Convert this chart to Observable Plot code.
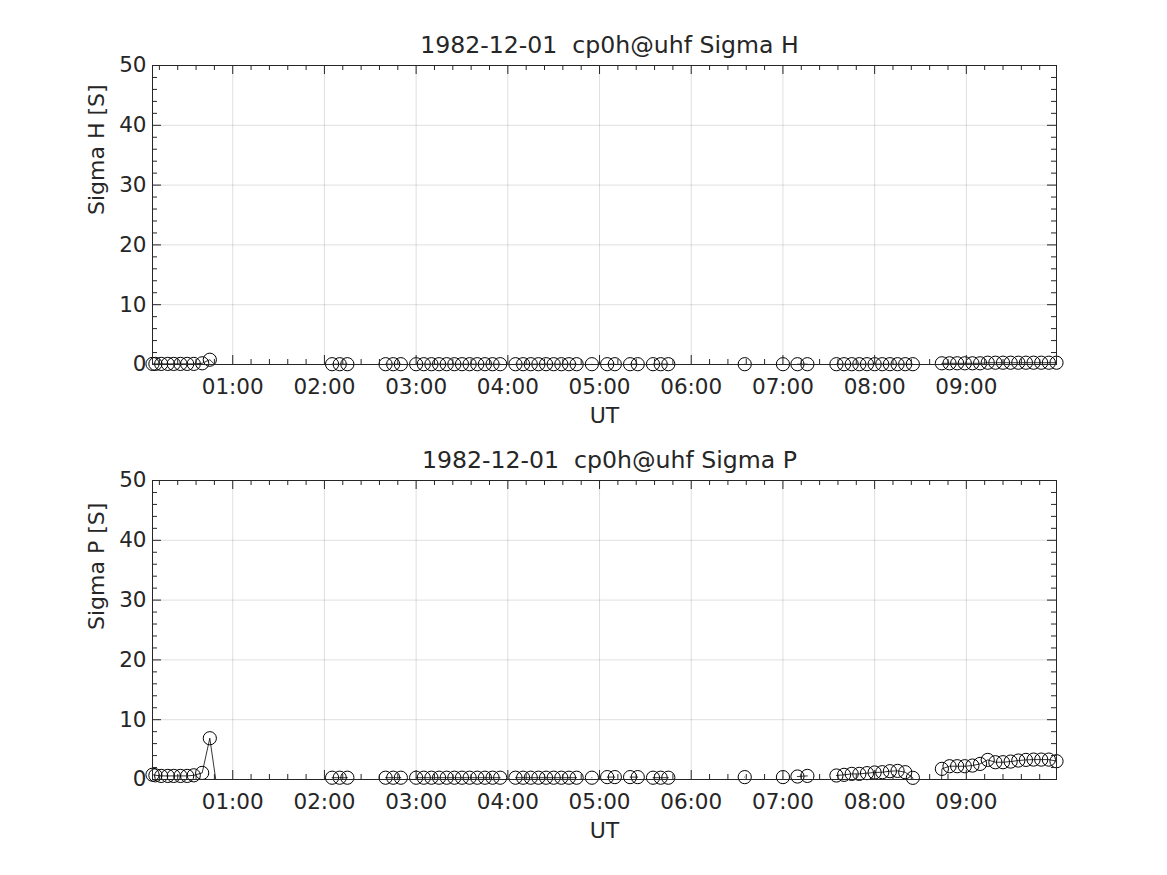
<!DOCTYPE html>
<html><head><meta charset="utf-8">
<script src="https://cdn.jsdelivr.net/npm/d3@7"></script>
<script src="https://cdn.jsdelivr.net/npm/@observablehq/plot@0.6"></script>
<style>
body{margin:0;background:#fff}
#c{width:1167px;height:875px;position:relative;overflow:hidden}
svg{display:block}
</style>
</head><body><div id="c"></div>
<script>
// ---- data (time in minutes after 00:00 UT; null = data gap; negative = invalid, clipped) ----
const dateLabel = "1982-12-01";
const experiment = "cp0h@uhf";
const timeMin = [
  7.5, 9.4, 13.2, 17.5, 21.4, 25.8, 30.2, 34.5, 40, 45, 49, 55,
  125, 130, 135, 140,
  160, 165, 170, 175,
  180, 185, 190, 195, 200, 205, 210, 215, 220, 225, 230, 235, 240,
  245, 250, 255, 260, 265, 270, 275, 280, 285, 290,
  295, 300,
  305, 310, 315,
  320, 325, 330,
  335, 340, 345, 350,
  395, 400,
  420, 425, 429.5, 436, 445,
  455, 460, 465, 470, 475, 480, 485, 490, 495, 500, 505,
  519,
  524, 529, 534, 539, 544, 549, 554, 559, 564, 569, 574, 579, 584, 589, 594, 599
];
const sigmaH = [
  0.1, 0.1, 0.1, 0.1, 0.1, 0.1, 0.1, 0.1, 0.2, 0.8, -0.2, null,
  0.05, 0.05, 0.05, null,
  0.05, 0.05, 0.05, null,
  0.05, 0.05, 0.05, 0.05, 0.05, 0.05, 0.05, 0.05, 0.05, 0.05, 0.05, 0.05, null,
  0.05, 0.05, 0.05, 0.05, 0.05, 0.05, 0.05, 0.05, 0.05, null,
  0.05, null,
  0.05, 0.05, null,
  0.05, 0.05, null,
  0.05, 0.05, 0.05, null,
  0.05, null,
  0.05, null, 0.05, 0.05, null,
  0.05, 0.05, 0.05, 0.05, 0.05, 0.05, 0.05, 0.05, 0.05, 0.05, 0.05,
  -50,
  0.2, 0.2, 0.2, 0.2, 0.2, 0.2, 0.3, 0.3, 0.3, 0.3, 0.3, 0.3, 0.3, 0.3, 0.3, 0.3
];
const sigmaP = [
  0.8, 0.7, 0.6, 0.6, 0.6, 0.6, 0.6, 0.7, 1.1, 6.9, -0.2, null,
  0.3, 0.3, 0.3, null,
  0.3, 0.3, 0.3, null,
  0.3, 0.3, 0.3, 0.3, 0.3, 0.3, 0.3, 0.3, 0.3, 0.3, 0.3, 0.3, null,
  0.3, 0.3, 0.3, 0.3, 0.3, 0.3, 0.3, 0.3, 0.3, null,
  0.3, null,
  0.4, 0.4, null,
  0.4, 0.4, null,
  0.3, 0.3, 0.3, null,
  0.4, null,
  0.4, null, 0.5, 0.6, null,
  0.67, 0.78, 0.94, 0.94, 1.06, 1.17, 1.22, 1.39, 1.44, 1.22, 0.28,
  -50,
  1.78, 2.22, 2.22, 2.22, 2.33, 2.61, 3.28, 2.89, 2.89, 3.0, 3.17, 3.28, 3.33, 3.33, 3.33, 3.06
];
const xTickMinutes = [60, 120, 180, 240, 300, 360, 420, 480, 540];
const xTickLabels = ["01:00", "02:00", "03:00", "04:00", "05:00", "06:00", "07:00", "08:00", "09:00"];
const yTicks = [0, 10, 20, 30, 40, 50];

// ---- drawing ----
const ink = "#262626";
const W = 1167, ML = 152, MR = 111;
const PH = 299, PW = W - ML - MR;
const font = "DejaVu Sans";
const tickFS = 21.5, labelFS = 22, titleFS = 23.6;

function panel({values, title, ylabel, marginTop, marginBottom}) {
  const rows = timeMin.map((t, i) => ({t, v: values[i]}));
  const shown = rows.filter(d => d.v != null && d.v >= 0);
  const xDomain = d3.extent(timeMin);
  const minorX = d3.range(Math.ceil(xDomain[0] / 12) * 12, xDomain[1], 12).filter(m => m % 60 !== 0);
  const minorY = d3.range(0, 51, 2).filter(v => v % 10 !== 0);
  return Plot.plot({
    width: W, height: marginTop + PH + marginBottom,
    marginLeft: ML, marginRight: MR, marginTop, marginBottom,
    x: {domain: xDomain, axis: null},
    y: {domain: [0, 50], axis: null},
    style: {fontFamily: font, background: "white", color: ink, overflow: "visible"},
    marks: [
      Plot.ruleX(xTickMinutes, {x: d => d, stroke: ink, strokeOpacity: 0.15}),
      Plot.ruleY(yTicks, {y: d => d, stroke: ink, strokeOpacity: 0.15}),
      Plot.line(rows, {x: "t", y: "v", stroke: "#000", strokeWidth: 0.8, clip: true}),
      Plot.dot(shown, {x: "t", y: "v", r: 6.6, stroke: "#000", strokeWidth: 1, fill: "none"}),
      // inward ticks, all four sides
      Plot.ruleX(xTickMinutes, {x: d => d, stroke: ink, insetTop: PH - 9}),
      Plot.ruleX(xTickMinutes, {x: d => d, stroke: ink, insetBottom: PH - 9}),
      Plot.ruleX(minorX, {x: d => d, stroke: ink, insetTop: PH - 5}),
      Plot.ruleX(minorX, {x: d => d, stroke: ink, insetBottom: PH - 5}),
      Plot.ruleY(yTicks, {y: d => d, stroke: ink, insetRight: PW - 9}),
      Plot.ruleY(yTicks, {y: d => d, stroke: ink, insetLeft: PW - 9}),
      Plot.ruleY(minorY, {y: d => d, stroke: ink, insetRight: PW - 5}),
      Plot.ruleY(minorY, {y: d => d, stroke: ink, insetLeft: PW - 5}),
      Plot.frame({stroke: ink}),
      // tick labels
      Plot.text(xTickMinutes, {x: d => d, text: (d, i) => xTickLabels[i], frameAnchor: "bottom", dy: 23, fontSize: tickFS, fill: ink, lineAnchor: "middle"}),
      Plot.text(yTicks, {y: d => d, text: d => String(d), frameAnchor: "left", textAnchor: "end", dx: -6, fontSize: tickFS, fill: ink, lineAnchor: "middle"}),
      // axis labels and title
      Plot.text(["UT"], {frameAnchor: "bottom", dy: 51, fontSize: labelFS, fill: ink, lineAnchor: "middle"}),
      Plot.text([ylabel], {frameAnchor: "left", rotate: -90, dx: -56, fontSize: labelFS, fill: ink, lineAnchor: "middle"}),
      Plot.text([title], {frameAnchor: "top", dx: 5, dy: -20, fontSize: titleFS, fill: ink, lineAnchor: "middle"})
    ]
  });
}

const c = document.getElementById("c");
c.append(panel({
  values: sigmaH,
  title: dateLabel + "\u00a0 " + experiment + " Sigma H",
  ylabel: "Sigma H [S]",
  marginTop: 65, marginBottom: 66
}));
c.append(panel({
  values: sigmaP,
  title: dateLabel + "\u00a0 " + experiment + " Sigma P",
  ylabel: "Sigma P [S]",
  marginTop: 50, marginBottom: 96
}));
</script>
</body></html>
